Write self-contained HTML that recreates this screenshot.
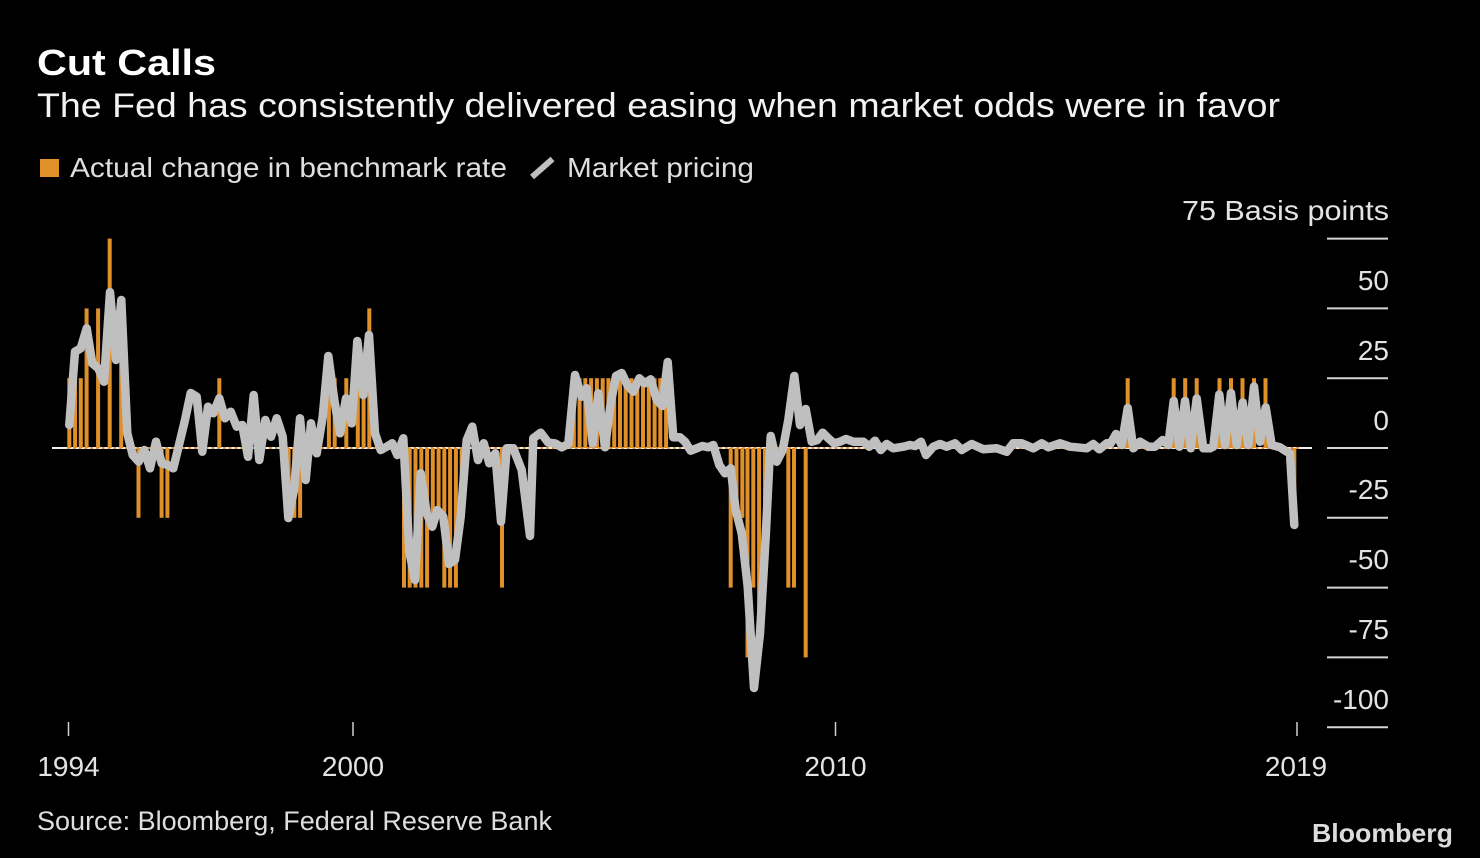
<!DOCTYPE html>
<html>
<head>
<meta charset="utf-8">
<style>
html,body{margin:0;padding:0;background:#000;}
svg{display:block;}
text{font-family:"Liberation Sans",sans-serif;}
</style>
</head>
<body>
<svg width="1480" height="858" viewBox="0 0 1480 858" xmlns="http://www.w3.org/2000/svg">
<rect x="0" y="0" width="1480" height="858" fill="#000"/>

<text x="37" y="75" font-size="36" font-weight="bold" fill="#ffffff" textLength="179" lengthAdjust="spacingAndGlyphs">Cut Calls</text>
<text x="37" y="117" font-size="34" fill="#f2f2f2" textLength="1243" lengthAdjust="spacingAndGlyphs">The Fed has consistently delivered easing when market odds were in favor</text>

<rect x="40" y="159" width="19" height="18" fill="#e0902b"/>
<text x="70" y="177" font-size="28" fill="#dedede" textLength="437" lengthAdjust="spacingAndGlyphs">Actual change in benchmark rate</text>
<line x1="532" y1="177" x2="552.5" y2="159" stroke="#bfbfbf" stroke-width="6"/>
<text x="567" y="177" font-size="28" fill="#dedede" textLength="187" lengthAdjust="spacingAndGlyphs">Market pricing</text>

<g stroke="#d6d6d6" stroke-width="2">
<line x1="1327" y1="238.6" x2="1388" y2="238.6"/>
<line x1="1327" y1="308.4" x2="1388" y2="308.4"/>
<line x1="1327" y1="378.2" x2="1388" y2="378.2"/>
<line x1="1327" y1="448" x2="1388" y2="448"/>
<line x1="1327" y1="517.8" x2="1388" y2="517.8"/>
<line x1="1327" y1="587.6" x2="1388" y2="587.6"/>
<line x1="1327" y1="657.4" x2="1388" y2="657.4"/>
<line x1="1327" y1="727.2" x2="1388" y2="727.2"/>
</g>
<g font-size="28" fill="#e3e3e3" text-anchor="end">
<text x="1389" y="220" textLength="207" lengthAdjust="spacingAndGlyphs">75 Basis points</text>
<text x="1389" y="290">50</text>
<text x="1389" y="360">25</text>
<text x="1389" y="430">0</text>
<text x="1389" y="499">-25</text>
<text x="1389" y="569">-50</text>
<text x="1389" y="639">-75</text>
<text x="1389" y="709">-100</text>
</g>

<g stroke="#cfcfcf" stroke-width="1.5">
<line x1="68.5" y1="722" x2="68.5" y2="736"/>
<line x1="353" y1="722" x2="353" y2="736"/>
<line x1="835.5" y1="722" x2="835.5" y2="736"/>
<line x1="1297" y1="722" x2="1297" y2="736"/>
</g>
<g font-size="28" fill="#e3e3e3" text-anchor="middle">
<text x="68.5" y="776">1994</text>
<text x="353" y="776">2000</text>
<text x="835.5" y="776">2010</text>
<text x="1296" y="776">2019</text>
</g>

<line x1="52" y1="448" x2="1312" y2="448" stroke="#efefef" stroke-width="2"/>
<line x1="67.3" y1="448" x2="1300" y2="448" stroke="#e0902b" stroke-width="2" stroke-dasharray="2.5 3.27"/>

<g fill="#e0902b">
<rect x="67.3" y="378.2" width="4" height="69.8"/>
<rect x="73.1" y="378.2" width="4" height="69.8"/>
<rect x="78.8" y="378.2" width="4" height="69.8"/>
<rect x="84.6" y="308.4" width="4" height="139.6"/>
<rect x="96.1" y="308.4" width="4" height="139.6"/>
<rect x="107.7" y="238.6" width="4" height="209.4"/>
<rect x="119.2" y="308.4" width="4" height="139.6"/>
<rect x="136.5" y="448" width="4" height="69.8"/>
<rect x="159.6" y="448" width="4" height="69.8"/>
<rect x="165.4" y="448" width="4" height="69.8"/>
<rect x="217.3" y="378.2" width="4" height="69.8"/>
<rect x="286.6" y="448" width="4" height="69.8"/>
<rect x="292.3" y="448" width="4" height="69.8"/>
<rect x="298.1" y="448" width="4" height="69.8"/>
<rect x="326.9" y="378.2" width="4" height="69.8"/>
<rect x="332.7" y="378.2" width="4" height="69.8"/>
<rect x="344.3" y="378.2" width="4" height="69.8"/>
<rect x="355.8" y="378.2" width="4" height="69.8"/>
<rect x="361.6" y="378.2" width="4" height="69.8"/>
<rect x="367.3" y="308.4" width="4" height="139.6"/>
<rect x="402" y="448" width="4" height="139.6"/>
<rect x="407.7" y="448" width="4" height="139.6"/>
<rect x="413.5" y="448" width="4" height="139.6"/>
<rect x="419.3" y="448" width="4" height="139.6"/>
<rect x="425.1" y="448" width="4" height="139.6"/>
<rect x="430.8" y="448" width="4" height="69.8"/>
<rect x="436.6" y="448" width="4" height="69.8"/>
<rect x="442.3" y="448" width="4" height="139.6"/>
<rect x="448.1" y="448" width="4" height="139.6"/>
<rect x="453.9" y="448" width="4" height="139.6"/>
<rect x="459.7" y="448" width="4" height="69.8"/>
<rect x="500" y="448" width="4" height="139.6"/>
<rect x="528.9" y="448" width="4" height="69.8"/>
<rect x="571.8" y="378.2" width="4" height="69.8"/>
<rect x="577.6" y="378.2" width="4" height="69.8"/>
<rect x="583.3" y="378.2" width="4" height="69.8"/>
<rect x="589.1" y="378.2" width="4" height="69.8"/>
<rect x="594.9" y="378.2" width="4" height="69.8"/>
<rect x="600.7" y="378.2" width="4" height="69.8"/>
<rect x="606.4" y="378.2" width="4" height="69.8"/>
<rect x="612.2" y="378.2" width="4" height="69.8"/>
<rect x="618" y="378.2" width="4" height="69.8"/>
<rect x="623.7" y="378.2" width="4" height="69.8"/>
<rect x="629.5" y="378.2" width="4" height="69.8"/>
<rect x="635.3" y="378.2" width="4" height="69.8"/>
<rect x="641" y="378.2" width="4" height="69.8"/>
<rect x="646.8" y="378.2" width="4" height="69.8"/>
<rect x="652.6" y="378.2" width="4" height="69.8"/>
<rect x="658.3" y="378.2" width="4" height="69.8"/>
<rect x="664.1" y="378.2" width="4" height="69.8"/>
<rect x="728.7" y="448" width="4" height="139.6"/>
<rect x="734.5" y="448" width="4" height="69.8"/>
<rect x="740.3" y="448" width="4" height="69.8"/>
<rect x="745.5" y="448" width="4" height="209.4"/>
<rect x="751.3" y="448" width="4" height="139.6"/>
<rect x="757.1" y="448" width="4" height="209.4"/>
<rect x="763" y="448" width="4" height="69.8"/>
<rect x="786.3" y="448" width="4" height="139.6"/>
<rect x="792" y="448" width="4" height="139.6"/>
<rect x="803.7" y="448" width="4" height="209.4"/>
<rect x="1125.7" y="378.2" width="4" height="69.8"/>
<rect x="1171.7" y="378.2" width="4" height="69.8"/>
<rect x="1183.2" y="378.2" width="4" height="69.8"/>
<rect x="1194.7" y="378.2" width="4" height="69.8"/>
<rect x="1217.5" y="378.2" width="4" height="69.8"/>
<rect x="1229" y="378.2" width="4" height="69.8"/>
<rect x="1240.5" y="378.2" width="4" height="69.8"/>
<rect x="1252" y="378.2" width="4" height="69.8"/>
<rect x="1263.5" y="378.2" width="4" height="69.8"/>
<rect x="1292.3" y="448" width="4" height="69.8"/>
</g>

<polyline fill="none" stroke="#bfbfbf" stroke-width="8.5" stroke-linejoin="round" stroke-linecap="round" points="69.3,425 75,351.7 80.7,348.3 86.7,328.3 92.3,363.3 98.3,368.3 104,381.7 110,292 116,360 121.3,300 127.3,433.3 132.7,455 138.7,461.7 144.3,450 150,468.3 156,441.7 161.7,463.3 167.7,465 173.3,468.3 179,445 185,420 190.7,393 196.7,396.7 202.3,451.7 208,406.7 213.3,413.3 219.3,398.3 225,418.3 230.7,411.7 236.7,426.7 242.3,425 248,456.7 253.7,395 259.3,460 265.3,420 271,436.7 276.7,418.3 282.7,436.7 288.3,518 294,490 300,418.3 305.7,480 311,423.3 316.7,453.3 322.7,416.7 328.3,356 334.3,400 340,433.3 346,398.3 351.7,423.3 357.3,341 363.3,395 369,335 375,433.3 380.7,450 386.7,446.7 392.3,443.3 397.3,455 403.3,438.3 409.3,551.7 415,580 420.7,473.3 426.7,513.3 432.3,526.7 437.3,510 443.3,516.7 449,564 455,560 460.7,516.7 466.7,440 472.3,426.7 478,460 483.7,443.3 489.3,463.3 495.3,453.3 501,521.7 506.7,448.3 513.3,448.3 521.7,470 530,536 533.3,438.3 540.7,432.7 548.3,442.7 555,443.3 561.7,447.3 568.3,444 575,375 581.7,396.7 586.7,388.3 592.7,443.3 598.3,393.3 605,447.3 610.7,403.3 616,376 621.7,373 627.3,385 633.3,391.7 639.3,378.3 645,383.3 650.7,379.3 656.7,400 662.3,406 667.7,362 673.3,437.3 680,437.3 685,441.7 690.7,450.7 696.7,448.3 702.3,446 708.3,447.3 713.3,445 719.3,465 725,473.3 730.7,468.3 735.7,510 741.7,533.3 747.7,586.7 754,688 760,633.3 765.7,536.7 770.7,436 776.7,461.7 782.7,450 788.3,420 794.3,376 800,425 805.7,409 811.7,441.7 817.3,440 822.7,432.7 828.3,438.3 834,443.3 840,441.7 846,439 853.3,441.7 863.3,441.7 869.3,446.7 875,440.7 880.7,450 886.7,444 893.3,448.3 903.3,446.7 910,445 915,446 921,441.7 926,455 933.3,446.7 940,444 946.7,446.7 955,443.3 961.7,450 971.7,444 983.3,449.3 996.7,448.3 1006.7,451.7 1013.3,443.3 1021.7,443.3 1033.3,448.3 1041.7,443.3 1048.3,447.3 1060,443.3 1070,446.7 1086.7,448.3 1093.3,444 1099.3,449.3 1106.7,443.3 1110.7,443.3 1116,434 1121.7,445 1127.7,408 1133.3,448.3 1140,441.7 1148.3,446.7 1155,446.7 1162.7,440 1168.3,445 1173.7,401 1179.3,446.7 1185,401 1190.7,448.3 1196.7,398.5 1203.3,448.3 1210,448.3 1213.3,446.7 1219.3,394.5 1225,445 1231,393 1236.7,445 1242.7,402.5 1248.3,445 1254,386.5 1260,441.7 1265.7,407.5 1271.7,445 1280,447.3 1286.7,451.7 1290,453.3 1294.3,525"/>

<text x="37" y="830" font-size="27" fill="#dedede" textLength="515" lengthAdjust="spacingAndGlyphs">Source: Bloomberg, Federal Reserve Bank</text>
<text x="1312" y="842" font-size="26" font-weight="bold" fill="#dcdcdc" textLength="141" lengthAdjust="spacingAndGlyphs">Bloomberg</text>
</svg>
</body>
</html>
